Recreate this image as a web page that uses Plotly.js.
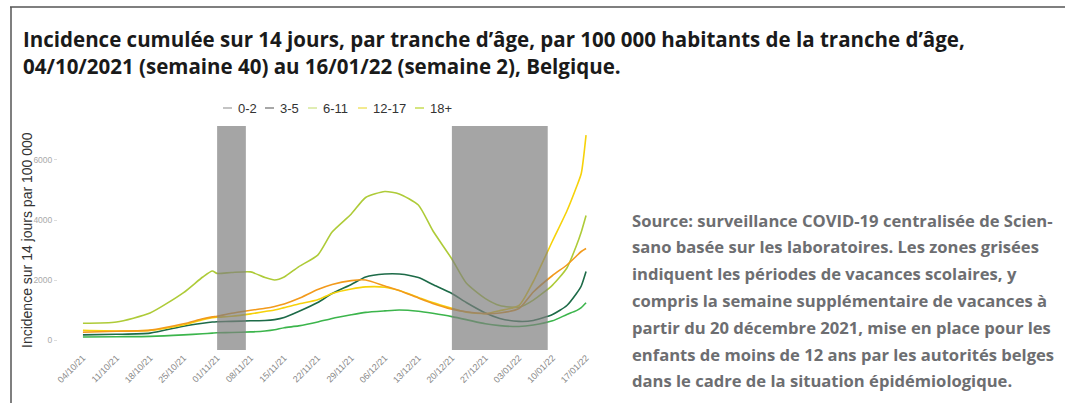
<!DOCTYPE html>
<html><head><meta charset="utf-8">
<script src="https://cdn.plot.ly/plotly-3.0.1.min.js"></script>
<style>html,body{margin:0;padding:0;background:#fff;}#chart{width:1065px;height:403px;}</style>
</head><body><div id="chart"></div>
<script>
const dates = ['2021-10-04','2021-10-11','2021-10-18','2021-10-25','2021-10-29','2021-10-31','2021-11-01','2021-11-04','2021-11-08','2021-11-11','2021-11-13','2021-11-15','2021-11-18','2021-11-22','2021-11-25','2021-11-29','2021-12-02','2021-12-06','2021-12-09','2021-12-13','2021-12-16','2021-12-20','2021-12-23','2021-12-27','2021-12-30','2022-01-03','2022-01-06','2022-01-10','2022-01-13','2022-01-15','2022-01-16','2022-01-17'];
const age0_2   = [100,110,120,170,210,230,240,250,270,300,340,410,470,600,720,840,920,970,1000,960,890,780,680,540,480,450,500,640,850,980,1080,1240];
const age3_5   = [170,190,230,460,560,600,610,620,640,650,680,750,950,1250,1550,1850,2100,2200,2200,2080,1850,1550,1250,900,720,620,650,850,1150,1550,1800,2280];
const age6_11  = [560,600,900,1580,2100,2300,2220,2250,2270,2080,2000,2100,2440,2830,3600,4200,4750,4950,4870,4500,3650,2700,1900,1380,1150,1090,1330,1830,2400,3150,3600,4150];
const age12_17 = [320,300,320,500,680,740,760,790,870,950,1000,1080,1200,1340,1550,1700,1770,1760,1650,1420,1250,1060,930,880,980,1150,1950,3300,4300,5100,5550,6830];
const age18p   = [260,290,330,540,710,770,790,890,990,1060,1120,1200,1380,1680,1850,1980,2000,1800,1650,1400,1220,1030,940,880,900,1050,1600,2150,2500,2800,2950,3050];
const seriesNames = ['0-2','3-5','6-11','12-17','18+'];
const holidayStart = ['2021-11-01','2021-12-20'];
const holidayEnd   = ['2021-11-07','2022-01-09'];
const tickDates = ['2021-10-04','2021-10-11','2021-10-18','2021-10-25','2021-11-01','2021-11-08','2021-11-15','2021-11-22','2021-11-29','2021-12-06','2021-12-13','2021-12-20','2021-12-27','2022-01-03','2022-01-10','2022-01-17'];
const yTicks = [0,2000,4000,6000];
const titleLines = ['Incidence cumulée sur 14 jours, par tranche d’âge, par 100 000 habitants de la tranche d’âge,','04/10/2021 (semaine 40) au 16/01/22 (semaine 2), Belgique.'];
const noteLines = ['Source: surveillance COVID-19 centralisée de Scien-','sano basée sur les laboratoires. Les zones grisées','indiquent les périodes de vacances scolaires, y','compris la semaine supplémentaire de vacances à','partir du 20 décembre 2021, mise en place pour les','enfants de moins de 12 ans par les autorités belges','dans le cadre de la situation épidémiologique.'];

const values = [age0_2, age3_5, age6_11, age12_17, age18p];
const lineColors = ['#3cb54c','#1d6b48','#aecb38','#f6d20a','#f29a1c'];
const legendColors = ['#b0b0b0','#8a8a8a','#d6e79a','#efe36a','#c7dc55'];

// plot-area pixel geometry
const PL = 58, PR = 612, PT = 126, PB = 350;
const px = x => (x - PL) / (PR - PL);
const py = y => (PB - y) / (PB - PT);

const traces = values.map((v, i) => ({
  x: dates, y: v, type: 'scatter', mode: 'lines', name: seriesNames[i],
  line: {color: lineColors[i], width: 1.6, shape: 'spline', smoothing: 0.6},
  showlegend: false, hoverinfo: 'skip'
}));

const shapes = holidayStart.map((s, i) => ({
  type: 'rect', xref: 'x', yref: 'paper', x0: s, x1: holidayEnd[i], y0: 0, y1: 1,
  fillcolor: '#7f7f7f', opacity: 0.7, line: {width: 0}, layer: 'above'
}));
// frame
shapes.push({type:'line', xref:'paper', yref:'paper', x0: px(10), x1: px(1066), y0: py(7), y1: py(7), line:{color:'#555', width:1.5}});
shapes.push({type:'line', xref:'paper', yref:'paper', x0: px(11), x1: px(11), y0: py(7), y1: py(404), line:{color:'#555', width:1.5}});

const annotations = [];
titleLines.forEach((t, i) => annotations.push({
  text: t, xref:'paper', yref:'paper', x: px(21), y: py(39 + i*27), xanchor:'left', yanchor:'middle',
  showarrow:false, font:{family:'Open Sans', size:20.5, color:'#1a1a1a', weight:700}
}));
noteLines.forEach((t, i) => annotations.push({
  text: t, xref:'paper', yref:'paper', x: px(630), y: py(220 + i*26.8), xanchor:'left', yanchor:'middle',
  showarrow:false, font:{family:'Open Sans', size:16.6, color:'#6d6e71', weight:700}
}));
// y axis title
annotations.push({text:'Incidence sur 14 jours par 100 000', xref:'paper', yref:'paper', x: px(27), y: py(240),
  xanchor:'center', yanchor:'middle', textangle:-90, showarrow:false,
  font:{family:'Liberation Sans', size:14, color:'#333'}});
// custom legend
const legX = [223, 265, 308, 358, 415];
seriesNames.forEach((n, i) => {
  shapes.push({type:'line', xref:'paper', yref:'paper', x0: px(legX[i]), x1: px(legX[i]+9), y0: py(108), y1: py(108), line:{color: legendColors[i], width:1.5}});
  annotations.push({text: n, xref:'paper', yref:'paper', x: px(legX[i]+13), y: py(108), xanchor:'left', yanchor:'middle',
    showarrow:false, font:{family:'Liberation Sans', size:13, color:'#333'}});
});

const layout = {
  width: 1065, height: 403,
  margin: {l: PL, r: 1065 - PR, t: PT, b: 403 - PB, pad: 0},
  paper_bgcolor: '#fff', plot_bgcolor: '#fff',
  showlegend: false,
  xaxis: {type:'date', range:['2021-09-28 19:00','2022-01-22 10:00'], tickmode:'array', tickvals: tickDates,
    ticktext: tickDates.map(d => d.slice(8,10)+'/'+d.slice(5,7)+'/'+d.slice(2,4)),
    tickangle:-45, tickfont:{family:'Liberation Sans', size:9, color:'#888'},
    showgrid:false, zeroline:false, showline:false, ticks:'', fixedrange:true},
  yaxis: {range:[-333, 7133], tickmode:'array', tickvals: yTicks, ticktext: yTicks.map(String),
    tickfont:{family:'Liberation Sans', size:8.5, color:'#aaa'}, ticks:'outside', ticklen:3, tickcolor:'#ddd',
    showgrid:false, zeroline:false, showline:false},
  shapes, annotations
};
Plotly.newPlot('chart', traces, layout, {staticPlot:true, displayModeBar:false});
</script></body></html>
